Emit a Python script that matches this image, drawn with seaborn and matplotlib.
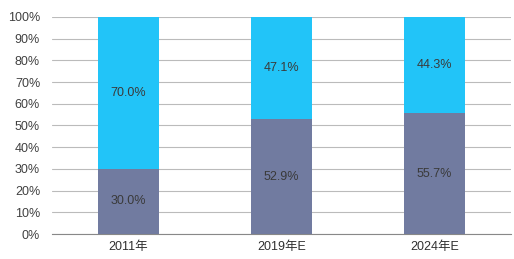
import matplotlib
matplotlib.use("Agg")
import matplotlib.pyplot as plt
import seaborn as sns
import pandas as pd

categories = ["2011年", "2019年E", "2024年E"]
bottom_vals = [30.0, 52.9, 55.7]
top_vals = [70.0, 47.1, 44.3]

sns.set_theme(style="white")
plt.rcParams['font.family'] = ['Liberation Sans', 'Noto Sans CJK SC', 'DejaVu Sans']

df = pd.DataFrame({"cat": categories, "bottom": bottom_vals, "top": top_vals})
df["total"] = df["bottom"] + df["top"]

fig = plt.figure(figsize=(5.14, 2.59), dpi=100)
ax = fig.add_axes([0.101, 0.0965, 0.893, 0.838])

sns.barplot(data=df, x="cat", y="total", color="#22C4F8", width=0.4, ax=ax,
            saturation=1, zorder=3, linewidth=0)
sns.barplot(data=df, x="cat", y="bottom", color="#717BA0", width=0.4, ax=ax,
            saturation=1, zorder=3, linewidth=0)

for i, (b, t) in enumerate(zip(bottom_vals, top_vals)):
    ax.text(i, b / 2, f"{b:.1f}%", ha="center", va="center", fontsize=9, color="#3a3a3a", zorder=4)
    ax.text(i, b + t / 2, f"{t:.1f}%", ha="center", va="center", fontsize=9, color="#3a3a3a", zorder=4)

ax.set_ylim(0, 100)
ax.set_xlim(-0.5, 2.5)
ax.set_yticks(range(0, 101, 10))
ax.set_yticklabels([f"{v}%" for v in range(0, 101, 10)], fontsize=9, color="#404040")
ax.set_xticklabels(categories, fontsize=9, color="#303030")
ax.set_xlabel("")
ax.set_ylabel("")
ax.yaxis.grid(True, color="#BBBBBB", linewidth=0.8, zorder=0)
ax.set_axisbelow(True)
for s in ["top", "right", "left"]:
    ax.spines[s].set_visible(False)
ax.spines["bottom"].set_color("#888888")
ax.spines["bottom"].set_linewidth(0.8)
ax.tick_params(axis="y", length=0, pad=8.5)
ax.tick_params(axis="x", which="major", length=0, pad=5)
ax.set_xticks([-0.5, 0.5, 1.5, 2.5], minor=True)
ax.tick_params(axis="x", which="minor", length=4, color="#888888", direction="out", width=0.8)

fig.savefig("out.png", dpi=100)
